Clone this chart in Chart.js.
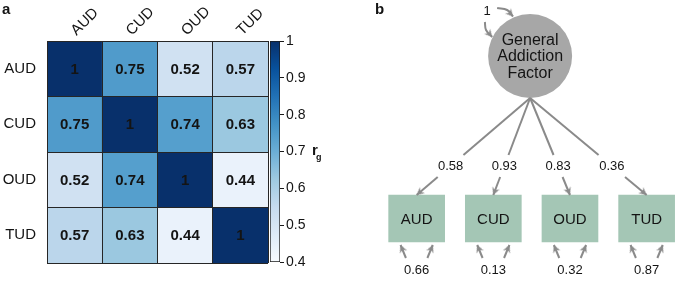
<!DOCTYPE html>
<html>
<head>
<meta charset="utf-8">
<script src="https://cdn.jsdelivr.net/npm/chart.js@4.4.1/dist/chart.umd.min.js"></script>
<style>
  html, body { margin: 0; padding: 0; background: #fff; }
  #wrap { position: relative; width: 675px; height: 281px; overflow: hidden; }
  #wrap canvas { position: absolute; top: 0; }
</style>
</head>
<body>
<div id="wrap">
  <canvas id="heat" width="270" height="281" style="left:0"></canvas>
  <canvas id="cbar" width="80" height="281" style="left:262px"></canvas>
  <canvas id="path" width="335" height="281" style="left:340px"></canvas>
</div>
<script>
// ---- data ----
const disorders = ['AUD', 'CUD', 'OUD', 'TUD'];
const rgAUD = [1, 0.75, 0.52, 0.57];
const rgCUD = [0.75, 1, 0.74, 0.63];
const rgOUD = [0.52, 0.74, 1, 0.44];
const rgTUD = [0.57, 0.63, 0.44, 1];
const rgRows = [rgAUD, rgCUD, rgOUD, rgTUD];
const cbarTicks = [0.4, 0.5, 0.6, 0.7, 0.8, 0.9, 1];

const factorLabel = ['General', 'Addiction', 'Factor'];
const factorVariance = 1;
const loadings = [0.58, 0.93, 0.83, 0.36];
const residuals = [0.66, 0.13, 0.32, 0.87];

// ---- look ----
const FONT = '"Liberation Sans", Arial, Helvetica, sans-serif';
const INK = '#141414';
const PATH_GREY = '#8a8a8a';
const BLUES = ['#f7fbff', '#deebf7', '#c6dbef', '#9ecae1', '#6baed6', '#4292c6', '#2171b5', '#08519c', '#08306b'];
Chart.defaults.font.family = FONT;
Chart.defaults.color = INK;

function hexRgb(h) {
  return [1, 3, 5].map(i => parseInt(h.substr(i, 2), 16));
}
// Blues colour map over the colour bar range 0.4 .. 1
function blues(v) {
  let t = (v - 0.4) / 0.6;
  t = Math.max(0, Math.min(1, t));
  const p = t * (BLUES.length - 1);
  const i = Math.min(Math.floor(p), BLUES.length - 2);
  const f = p - i;
  const a = hexRgb(BLUES[i]), b = hexRgb(BLUES[i + 1]);
  const c = a.map((x, k) => Math.round(x + (b[k] - x) * f));
  return `rgb(${c[0]},${c[1]},${c[2]})`;
}
const fmt = v => String(v);

// ---- panel a: heat map ----
const heatLabels = {
  id: 'heatLabels',
  afterDraw(chart) {
    const { ctx, scales: { x, y } } = chart;
    ctx.save();
    ctx.fillStyle = INK;
    ctx.textBaseline = 'middle';
    ctx.textAlign = 'center';
    ctx.font = `bold 15px ${FONT}`;
    rgRows.forEach((row, r) => row.forEach((v, c) => {
      ctx.fillText(fmt(v), x.getPixelForValue(c), y.getPixelForValue(r + 0.5) + 1);
    }));
    ctx.font = `15px ${FONT}`;
    ctx.textAlign = 'right';
    disorders.forEach((d, r) => ctx.fillText(d, x.left - 11, y.getPixelForValue(r + 0.5)));
    ctx.textAlign = 'left';
    disorders.forEach((d, c) => {
      ctx.save();
      ctx.translate(x.getPixelForValue(c) - 1, y.top - 8);
      ctx.rotate(-Math.PI / 4);
      ctx.fillText(d, 0, 0);
      ctx.restore();
    });
    ctx.font = `bold 15px ${FONT}`;
    ctx.textBaseline = 'top';
    ctx.fillText('a', 2, 2);
    ctx.restore();
  }
};

new Chart(document.getElementById('heat'), {
  type: 'bar',
  data: {
    labels: disorders,
    datasets: rgRows.map((row, r) => ({
      label: disorders[r],
      data: row.map(() => [r, r + 1]),
      backgroundColor: row.map(blues),
      borderWidth: 0,
      barPercentage: 1,
      categoryPercentage: 1,
      grouped: false
    }))
  },
  options: {
    responsive: false,
    animation: false,
    events: [],
    layout: { padding: { left: 47, right: 2, top: 41, bottom: 18 } },
    plugins: { legend: { display: false }, tooltip: { enabled: false } },
    scales: {
      x: {
        position: 'top',
        grid: { offset: true, color: '#262626', lineWidth: 1, z: 1, drawTicks: false },
        border: { display: false },
        ticks: { display: false },
        afterFit: s => { s.height = 0; }
      },
      y: {
        min: 0, max: 4, reverse: true,
        ticks: { display: false, stepSize: 1 },
        grid: { color: '#262626', lineWidth: 1, z: 1, drawTicks: false },
        border: { display: false },
        afterFit: s => { s.width = 0; }
      }
    }
  },
  plugins: [heatLabels]
});

// ---- colour bar ----
const cbarTitle = {
  id: 'cbarTitle',
  afterDraw(chart) {
    const { ctx, chartArea, scales: { y } } = chart;
    const yy = y.getPixelForValue(0.7);
    ctx.save();
    ctx.fillStyle = INK;
    ctx.textAlign = 'left';
    ctx.textBaseline = 'middle';
    ctx.font = `bold 15px ${FONT}`;
    ctx.fillText('r', chartArea.right + 32, yy - 1);
    ctx.font = `bold 9px ${FONT}`;
    ctx.fillText('g', chartArea.right + 36, yy + 6);
    ctx.restore();
  }
};

new Chart(document.getElementById('cbar'), {
  type: 'bar',
  data: {
    labels: ['rg'],
    datasets: [{
      data: [[cbarTicks[0], cbarTicks[cbarTicks.length - 1]]],
      backgroundColor: (c) => {
        const { chart } = c;
        const area = chart.chartArea;
        if (!area) return BLUES[4];
        const y = chart.scales.y;
        const g = chart.ctx.createLinearGradient(0, y.getPixelForValue(0.4), 0, y.getPixelForValue(1));
        BLUES.forEach((col, k) => g.addColorStop(k / (BLUES.length - 1), col));
        return g;
      },
      borderColor: '#1a1a1a',
      borderWidth: 1,
      borderSkipped: false,
      barPercentage: 1,
      categoryPercentage: 1
    }]
  },
  options: {
    responsive: false,
    animation: false,
    events: [],
    layout: { padding: { left: 8, right: 0, top: 41, bottom: 19 } },
    plugins: { legend: { display: false }, tooltip: { enabled: false } },
    scales: {
      x: { display: false },
      y: {
        position: 'right',
        min: 0.4, max: 1,
        afterBuildTicks: s => { s.ticks = cbarTicks.map(v => ({ value: v })); },
        ticks: { color: INK, padding: 2, font: { size: 14 }, callback: v => fmt(+v.toFixed(1)) },
        grid: { drawOnChartArea: false, tickLength: 4, color: '#1a1a1a' },
        border: { display: false },
        afterFit: s => { s.width = 62; }
      }
    }
  },
  plugins: [cbarTitle]
});

// ---- panel b: path diagram ----
// diagram layout (units: indicator slots across, tenths of the panel height down)
const slotX = [1, 2, 3, 4];
const FACTOR = { x: 2.48, y: 5.6, bottom: 9.8 };
const BOX = { top: 19.5, bottom: 24.2 };
const GAP = { top: 15.5, label: 16.6, bottom: 17.7 };
const RES = { tip: 24.5, tail: 25.8, tipDx: 0.21, tailDx: 0.14, label: 27.0 };
const LOOP = {
  label: { x: 1.92, y: 1.1 },
  top: [{ x: 2.05, y: 0.8 }, { x: 2.18, y: 1.0 }, { x: 2.257, y: 1.65 }],
  left: [{ x: 1.89, y: 2.2 }, { x: 1.905, y: 3.0 }, { x: 1.985, y: 3.7 }]
};
const xOnPath = (i, yv) => FACTOR.x + (slotX[i] - FACTOR.x) * (yv - FACTOR.bottom) / (BOX.top - FACTOR.bottom);

// arrow head sprite, pointing up, tip in the centre
const arrowHead = document.createElement('canvas');
arrowHead.width = 16; arrowHead.height = 16;
(function () {
  const c = arrowHead.getContext('2d');
  c.fillStyle = PATH_GREY;
  c.beginPath();
  c.moveTo(8, 8);
  c.lineTo(11.9, 15.6);
  c.lineTo(8, 13.2);
  c.lineTo(4.1, 15.6);
  c.closePath();
  c.fill();
})();

function arrowAngle(c) {
  const pts = c.dataset.data, i = c.dataIndex;
  if (i === 0) return 0;
  const { x, y } = c.chart.scales;
  const dx = x.getPixelForValue(pts[i].x) - x.getPixelForValue(pts[i - 1].x);
  const dy = y.getPixelForValue(pts[i].y) - y.getPixelForValue(pts[i - 1].y);
  return Math.atan2(dx, -dy) * 180 / Math.PI;
}

function pathLine(points, arrow, tension) {
  return {
    type: 'line',
    data: points,
    borderColor: PATH_GREY,
    borderWidth: 2,
    fill: false,
    tension: tension || 0,
    pointStyle: arrowHead,
    pointRadius: c => (arrow && c.dataIndex === c.dataset.data.length - 1) ? 6 : 0,
    pointRotation: arrowAngle
  };
}

const pathDatasets = [];
loadings.forEach((l, i) => {
  pathDatasets.push(pathLine([{ x: FACTOR.x, y: FACTOR.bottom }, { x: xOnPath(i, GAP.top), y: GAP.top }], false));
  pathDatasets.push(pathLine([{ x: xOnPath(i, GAP.bottom), y: GAP.bottom }, { x: slotX[i], y: BOX.top }], true));
});
residuals.forEach((r, i) => {
  pathDatasets.push(pathLine([{ x: slotX[i] - RES.tailDx, y: RES.tail }, { x: slotX[i] - RES.tipDx, y: RES.tip }], true));
  pathDatasets.push(pathLine([{ x: slotX[i] + RES.tailDx, y: RES.tail }, { x: slotX[i] + RES.tipDx, y: RES.tip }], true));
});
pathDatasets.push(pathLine(LOOP.top, true, 0.4));
pathDatasets.push(pathLine(LOOP.left, true, 0.4));

const diagramText = {
  id: 'diagramText',
  afterDraw(chart) {
    const { ctx, scales: { x, y } } = chart;
    const px = v => x.getPixelForValue(v), py = v => y.getPixelForValue(v);
    ctx.save();
    ctx.fillStyle = INK;
    ctx.textAlign = 'center';
    ctx.textBaseline = 'middle';
    ctx.font = `16px ${FONT}`;
    factorLabel.forEach((t, k) => ctx.fillText(t, px(FACTOR.x), py(FACTOR.y) + 1 + (k - 1) * 16.5));
    ctx.font = `15px ${FONT}`;
    disorders.forEach((d, i) => ctx.fillText(d, px(slotX[i]), py((BOX.top + BOX.bottom) / 2) + 1));
    ctx.font = `13px ${FONT}`;
    loadings.forEach((l, i) => ctx.fillText(fmt(l), px(xOnPath(i, GAP.label)), py(GAP.label)));
    residuals.forEach((r, i) => ctx.fillText(fmt(r), px(slotX[i]), py(RES.label)));
    ctx.fillText(fmt(factorVariance), px(LOOP.label.x), py(LOOP.label.y));
    ctx.font = `bold 15px ${FONT}`;
    ctx.textAlign = 'left';
    ctx.textBaseline = 'top';
    ctx.fillText('b', 35, 2);
    ctx.restore();
  }
};

new Chart(document.getElementById('path'), {
  type: 'bar',
  data: {
    datasets: [
      ...pathDatasets,
      {
        type: 'scatter',
        data: [{ x: FACTOR.x, y: FACTOR.y }],
        backgroundColor: '#a7a7a7',
        borderWidth: 0,
        pointRadius: 42
      },
      {
        type: 'bar',
        data: disorders.map((d, i) => ({ x: slotX[i], y: [BOX.top, BOX.bottom] })),
        backgroundColor: '#a4c6b5',
        borderWidth: 0,
        barThickness: 56
      }
    ]
  },
  options: {
    responsive: false,
    animation: false,
    events: [],
    layout: { padding: 0, autoPadding: false },
    plugins: { legend: { display: false }, tooltip: { enabled: false } },
    scales: {
      x: { type: 'linear', min: 0, max: 4.37, offset: false, display: false },
      y: { type: 'linear', min: 0, max: 28.1, reverse: true, display: false }
    }
  },
  plugins: [diagramText]
});
</script>
</body>
</html>
